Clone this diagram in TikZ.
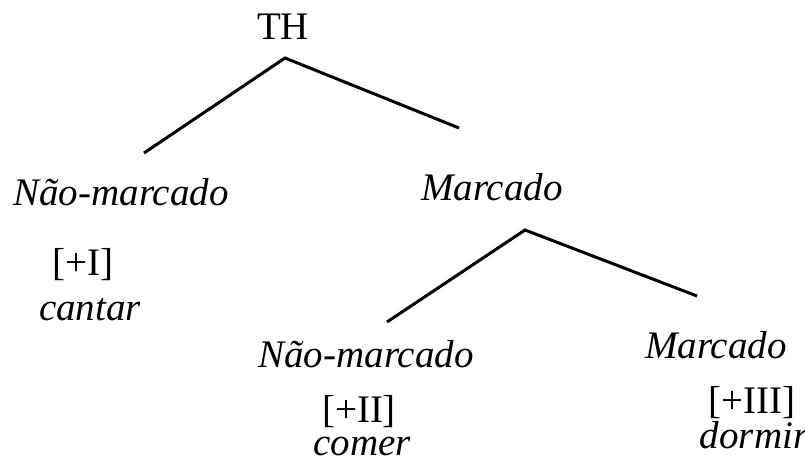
\documentclass[tikz,border=0pt]{standalone}
\usepackage{fontspec}
\setmainfont{Liberation Serif}
\begin{document}
\begin{tikzpicture}[x=1pt,y=-1pt,
  lbl/.style={inner sep=0pt,anchor=base,font=\fontsize{39}{47}\selectfont},
  cat/.style={lbl,font=\fontsize{39}{47}\selectfont\itshape},
  branch/.style={line width=3pt,line cap=butt}]
\useasboundingbox (0,0) rectangle (805,458);
% root and first split
\node[lbl] (th) at (283,39) {TH};
\coordinate (top1) at (285,58);
\coordinate (l1) at (144,153);
\coordinate (r1) at (459,128);
\draw[branch] (l1) -- (top1) -- (r1);
\node[cat] (nm1) at (121,205) {Não-marcado};
\node[cat] (m1) at (492,200) {Marcado};
\node[lbl] (c1) at (83,275) {[+I]};
\node[cat] (v1) at (90,320) {cantar};
% second split under the marked branch
\coordinate (top2) at (525,230);
\coordinate (l2) at (387,322);
\coordinate (r2) at (697,296);
\draw[branch] (l2) -- (top2) -- (r2);
\node[cat] (nm2) at (366,367) {Não-marcado};
\node[cat] (m2) at (716,358) {Marcado};
\node[lbl] (c2) at (359,422) {[+II]};
\node[cat] (v2) at (362,455) {comer};
\node[lbl] (c3) at (752,413) {[+III]};
\node[cat] (v3) at (754,448) {dormir};
\end{tikzpicture}
\end{document}
